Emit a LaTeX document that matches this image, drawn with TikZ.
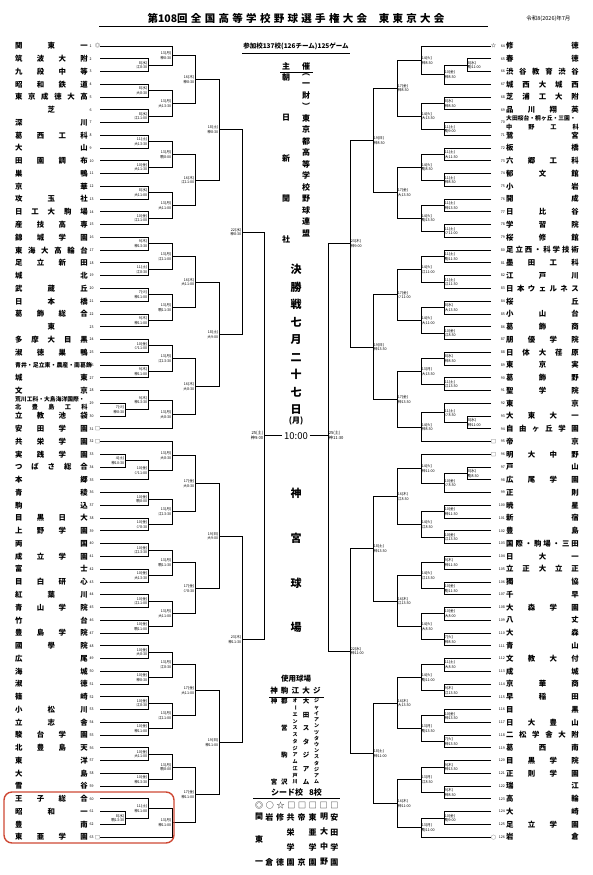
\documentclass[tikz,border=0pt]{standalone}
\usepackage{fontspec}
\usepackage{graphicx}
\setmainfont{Noto Sans CJK JP}
\usetikzlibrary{calc,positioning}
\definecolor{boxred}{RGB}{206,72,52}

% team rows: left 1--63, right 64--126
\newcommand\teamL[3]{%
  \node[nameL] (nm#1) at (15,{46+(#1-1)*12.76}) {\makebox[72.5pt][s]{#3}};
  \node[numL] (no#1) at (89.5,{46+(#1-1)*12.76}) {#1};
  \node[seedmark] (mk#1) at (97.5,{46+(#1-1)*12.76}) {#2};
  \coordinate (t#1) at (100,{46+(#1-1)*12.76});
}
\newcommand\teamR[3]{%
  \node[nameR] (nm#1) at (506,{46+(#1-64)*12.76}) {\makebox[72.5pt][s]{#3}};
  \node[numR] (no#1) at (505,{46+(#1-64)*12.76}) {#1};
  \node[seedmark] (mk#1) at (493.5,{46+(#1-64)*12.76}) {#2};
  \coordinate (t#1) at (491,{46+(#1-64)*12.76});
}
\newcommand\twoline[2]{\vbox{\hbox{\fontsize{5.8}{6}\selectfont #1}\kern0.8pt
  \hbox{\fontsize{6.2}{6.5}\selectfont\makebox[72.5pt][s]{#2}}}}
% one game: out, upper, lower, column, date
\newcommand\gameL[5]{%
  \draw[bline] (#2) -- (#2 -| #4) -- (#3 -| #4) -- (#3);
  \coordinate (#1) at ($(#2 -| #4)!0.5!(#3 -| #4)$);
  \node[dateL] (d#1) at (#1) {#5};
}
\newcommand\gameR[5]{%
  \draw[bline] (#2) -- (#2 -| #4) -- (#3 -| #4) -- (#3);
  \coordinate (#1) at ($(#2 -| #4)!0.5!(#3 -| #4)$);
  \node[dateR] (d#1) at (#1) {#5};
}

\begin{document}
\begin{tikzpicture}[x=1pt,y=-1pt]

    \tikzset{
      bline/.style={line width=0.85pt, line join=miter},
      nameL/.style={anchor=west, inner sep=0pt, font=\fontsize{7.4}{8}\selectfont\bfseries},
      nameR/.style={anchor=west, inner sep=0pt, font=\fontsize{7.4}{8}\selectfont\bfseries},
      numL/.style={anchor=west, inner sep=0pt, font=\fontsize{3.6}{4}\selectfont},
      numR/.style={anchor=east, inner sep=0pt, font=\fontsize{3.6}{4}\selectfont},
      seedmark/.style={inner sep=0pt, font=\fontsize{5}{5}\selectfont},
      dateL/.style={anchor=east, inner sep=0.6pt, align=right, font=\fontsize{3.7}{4.6}\selectfont},
      dateR/.style={anchor=west, inner sep=0.6pt, align=left, font=\fontsize{3.7}{4.6}\selectfont},
      vtext/.style={anchor=north, inner sep=0pt, align=center},
      uline/.style={line width=0.8pt},
      redbox/.style={draw=boxred, line width=1.4pt, rounded corners=8pt},
    }
    \useasboundingbox (0,0) rectangle (593,875);

    % heading
    \node[font=\fontsize{10.5}{12}\selectfont\bfseries] (ttl) at (296,18)
      {\makebox[297pt][s]{第108回 全 国 高 等 学 校 野 球 選 手 権 大 会 \hspace{5pt} 東 東 京 大 会}};
    \draw[uline] (99,26) -- (488,26);
    \node[anchor=east, font=\fontsize{5.5}{6}\selectfont] (issued) at (574,19) {令和8(2026)年7月};

    % bracket columns
    \coordinate (cL0) at (125,0); \coordinate (cL1) at (148,0); \coordinate (cL2) at (172,0);
    \coordinate (cL3) at (195,0); \coordinate (cL4) at (219,0); \coordinate (cL5) at (242,0);
    \coordinate (cL6) at (264,0);
    \coordinate (cR0) at (467,0); \coordinate (cR1) at (444,0); \coordinate (cR2) at (421,0);
    \coordinate (cR3) at (397,0); \coordinate (cR4) at (373,0); \coordinate (cR5) at (350,0);
    \coordinate (cR6) at (328,0);

    % left teams
    \teamL{1}{◎}{関 東 一}
    \teamL{2}{}{筑 波 大 附}
    \teamL{3}{}{九 段 中 等}
    \teamL{4}{}{昭 和 鉄 道}
    \teamL{5}{}{東 京 成 徳 大 高}
    \teamL{6}{}{\hfill 芝\hfill}
    \teamL{7}{}{深 川}
    \teamL{8}{}{葛 西 工 科}
    \teamL{9}{}{大 山}
    \teamL{10}{}{田 園 調 布}
    \teamL{11}{}{巣 鴨}
    \teamL{12}{}{京 華}
    \teamL{13}{}{攻 玉 社}
    \teamL{14}{}{日 工 大 駒 場}
    \teamL{15}{}{産 技 高 専}
    \teamL{16}{}{錦 城 学 園}
    \teamL{17}{}{東 海 大 高 輪 台}
    \teamL{18}{}{足 立 新 田}
    \teamL{19}{}{城 北}
    \teamL{20}{}{武 蔵 丘}
    \teamL{21}{}{日 本 橋}
    \teamL{22}{}{葛 飾 総 合}
    \teamL{23}{}{\hfill 東\hfill}
    \teamL{24}{}{多 摩 大 目 黒}
    \teamL{25}{}{淑 徳 巣 鴨}
    \teamL{26}{}{\fontsize{5.9}{6}\selectfont 青井・足立東・農産・南葛飾}
    \teamL{27}{}{城 東}
    \teamL{28}{}{文 京}
    \teamL{29}{}{\twoline{荒川工科・大島海洋国際・}{北 豊 島 工 科}}
    \teamL{30}{}{立 教 池 袋}
    \teamL{31}{□}{安 田 学 園}
    \teamL{32}{□}{共 栄 学 園}
    \teamL{33}{}{実 践 学 園}
    \teamL{34}{}{つ ば さ 総 合}
    \teamL{35}{}{本 郷}
    \teamL{36}{}{青 稜}
    \teamL{37}{}{駒 込}
    \teamL{38}{}{目 黒 日 大}
    \teamL{39}{}{上 野 学 園}
    \teamL{40}{}{両 国}
    \teamL{41}{}{成 立 学 園}
    \teamL{42}{}{富 士}
    \teamL{43}{}{目 白 研 心}
    \teamL{44}{}{紅 葉 川}
    \teamL{45}{}{青 山 学 院}
    \teamL{46}{}{竹 台}
    \teamL{47}{}{豊 島 学 院}
    \teamL{48}{}{國 學 院}
    \teamL{49}{}{広 尾}
    \teamL{50}{}{海 城}
    \teamL{51}{}{淑 徳}
    \teamL{52}{}{篠 崎}
    \teamL{53}{}{小 松 川}
    \teamL{54}{}{立 志 舎}
    \teamL{55}{}{駿 台 学 園}
    \teamL{56}{}{北 豊 島 天}
    \teamL{57}{}{東 洋}
    \teamL{58}{}{大 島}
    \teamL{59}{}{雪 谷}
    \teamL{60}{}{王 子 総 合}
    \teamL{61}{}{昭 和 一}
    \teamL{62}{}{豊 南}
    \teamL{63}{□}{東 亜 学 園}

    % right teams
    \teamR{64}{☆}{修 徳}
    \teamR{65}{}{春 徳}
    \teamR{66}{}{渋 谷 教 育 渋 谷}
    \teamR{67}{}{城 西 大 城 西}
    \teamR{68}{}{芝 浦 工 大 附}
    \teamR{69}{}{品 川 翔 英}
    \teamR{70}{}{\twoline{大田桜台・桐ヶ丘・三園・}{中 野 工 科}}
    \teamR{71}{}{鷺 宮}
    \teamR{72}{}{板 橋}
    \teamR{73}{}{六 郷 工 科}
    \teamR{74}{}{郁 文 館}
    \teamR{75}{}{小 岩}
    \teamR{76}{}{開 成}
    \teamR{77}{}{日 比 谷}
    \teamR{78}{}{学 習 院}
    \teamR{79}{}{桜 修 館}
    \teamR{80}{}{足 立 西 ・ 科 学 技 術}
    \teamR{81}{}{墨 田 工 科}
    \teamR{82}{}{江 戸 川}
    \teamR{83}{}{日 本 ウ ェ ル ネ ス}
    \teamR{84}{}{桜 丘}
    \teamR{85}{}{小 山 台}
    \teamR{86}{}{葛 飾 商}
    \teamR{87}{}{朋 優 学 院}
    \teamR{88}{}{日 体 大 荏 原}
    \teamR{89}{}{東 京 実}
    \teamR{90}{}{葛 飾 野}
    \teamR{91}{}{聖 学 院}
    \teamR{92}{}{東 京}
    \teamR{93}{}{大 東 大 一}
    \teamR{94}{}{自 由 ヶ 丘 学 園}
    \teamR{95}{□}{帝 京}
    \teamR{96}{□}{明 大 中 野}
    \teamR{97}{}{戸 山}
    \teamR{98}{}{広 尾 学 園}
    \teamR{99}{}{正 則}
    \teamR{100}{}{暁 星}
    \teamR{101}{}{新 宿}
    \teamR{102}{}{豊 島}
    \teamR{103}{}{国 際 ・ 駒 場 ・ 三 田}
    \teamR{104}{}{日 大 一}
    \teamR{105}{}{立 正 大 立 正}
    \teamR{106}{}{獨 協}
    \teamR{107}{}{千 早}
    \teamR{108}{}{大 森 学 園}
    \teamR{109}{}{八 丈}
    \teamR{110}{}{大 森}
    \teamR{111}{}{青 山}
    \teamR{112}{}{文 教 大 付}
    \teamR{113}{}{成 城}
    \teamR{114}{}{京 華 商}
    \teamR{115}{}{早 稲 田}
    \teamR{116}{}{目 黒}
    \teamR{117}{}{日 大 豊 山}
    \teamR{118}{}{二 松 学 舎 大 附}
    \teamR{119}{}{葛 西 南}
    \teamR{120}{}{目 黒 学 院}
    \teamR{121}{}{正 則 学 園}
    \teamR{122}{}{瑞 江}
    \teamR{123}{}{高 輪}
    \teamR{124}{}{大 崎}
    \teamR{125}{}{足 立 学 園}
    \teamR{126}{○}{岩 倉}

    % left bracket, block 1--15
    \gameL{gA1}{t2}{t3}{cL1}{8(水)\\江8:30}
    \gameL{gA2}{t1}{gA1}{cL2}{13(月)\\神8:30}
    \gameL{gA3}{t4}{t5}{cL1}{8(水)\\大8:30}
    \gameL{gA4}{t6}{t7}{cL1}{8(水)\\江11:00}
    \gameL{gA5}{gA3}{gA4}{cL2}{13(月)\\大13:30}
    \gameL{gA6}{gA2}{gA5}{cL3}{16(木)\\神8:30}
    \gameL{gA7}{t8}{t9}{cL1}{11(土)\\大13:30}
    \gameL{gA8}{t10}{t11}{cL1}{10(金)\\大11:30}
    \gameL{gA9}{gA7}{gA8}{cL2}{13(月)\\駒8:00}
    \gameL{gA10}{t12}{t13}{cL1}{8(水)\\大11:00}
    \gameL{gA11}{t14}{t15}{cL1}{10(金)\\江11:00}
    \gameL{gA12}{gA10}{gA11}{cL2}{13(月)\\大11:00}
    \gameL{gA13}{gA9}{gA12}{cL3}{16(木)\\江11:00}
    \gameL{gA14}{gA6}{gA13}{cL4}{18(土)\\神8:30}
    % block 16--31
    \gameL{gB1}{t16}{t17}{cL1}{9(木)\\神13:30}
    \gameL{gB2}{t18}{t19}{cL1}{11(土)\\江8:30}
    \gameL{gB3}{gB1}{gB2}{cL2}{13(月)\\江11:00}
    \gameL{gB4}{t20}{t21}{cL1}{7(火)\\神11:00}
    \gameL{gB5}{t22}{t23}{cL1}{9(木)\\神11:00}
    \gameL{gB6}{gB4}{gB5}{cL2}{13(月)\\駒11:30}
    \gameL{gB7}{gB3}{gB6}{cL3}{16(木)\\大11:00}
    \gameL{gB8}{t24}{t25}{cL1}{10(金)\\ジ11:00}
    \gameL{gB9}{t26}{t27}{cL1}{9(木)\\神11:00}
    \gameL{gB10}{gB8}{gB9}{cL2}{13(月)\\江13:30}
    \gameL{gB11}{t29}{t30}{cL0}{7(火)\\神8:30}
    \gameL{gB12}{t28}{gB11}{cL1}{9(木)\\神13:30}
    \gameL{gB13}{gB12}{t31}{cL2}{13(月)\\大8:30}
    \gameL{gB14}{gB10}{gB13}{cL3}{16(木)\\大8:30}
    \gameL{gB15}{gB7}{gB14}{cL4}{18(土)\\大9:00}
    \gameL{gR5a}{gA14}{gB15}{cL5}{22(水)\\神8:30}
    % block 32--47
    \gameL{gC1}{t33}{t34}{cL0}{4(土)\\神10:30}
    \gameL{gC2}{gC1}{t35}{cL1}{10(金)\\ジ11:00}
    \gameL{gC3}{t32}{gC2}{cL2}{13(月)\\大8:30}
    \gameL{gC4}{t36}{t37}{cL1}{10(金)\\駒8:00}
    \gameL{gC5}{t38}{t39}{cL1}{10(金)\\ジ8:30}
    \gameL{gC6}{gC4}{gC5}{cL2}{13(月)\\江13:30}
    \gameL{gC7}{gC3}{gC6}{cL3}{17(金)\\大8:30}
    \gameL{gC8}{t40}{t41}{cL1}{10(金)\\江13:30}
    \gameL{gC9}{t42}{t43}{cL1}{10(金)\\大13:30}
    \gameL{gC10}{gC8}{gC9}{cL2}{13(月)\\駒11:30}
    \gameL{gC11}{t44}{t45}{cL1}{10(金)\\江11:00}
    \gameL{gC12}{t46}{t47}{cL1}{10(金)\\駒11:00}
    \gameL{gC13}{gC11}{gC12}{cL2}{13(月)\\大11:00}
    \gameL{gC14}{gC10}{gC13}{cL3}{17(金)\\ジ8:30}
    \gameL{gC15}{gC7}{gC14}{cL4}{19(日)\\大9:00}
    % block 48--63
    \gameL{gD1}{t48}{t49}{cL1}{10(金)\\大8:30}
    \gameL{gD2}{t50}{t51}{cL1}{10(金)\\神8:30}
    \gameL{gD3}{gD1}{gD2}{cL2}{13(月)\\江8:30}
    \gameL{gD4}{t52}{t53}{cL1}{10(金)\\江8:30}
    \gameL{gD5}{t54}{t55}{cL1}{10(金)\\神11:00}
    \gameL{gD6}{gD4}{gD5}{cL2}{13(月)\\江11:00}
    \gameL{gD7}{gD3}{gD6}{cL3}{17(金)\\大11:00}
    \gameL{gD8}{t56}{t57}{cL1}{10(金)\\大11:00}
    \gameL{gD9}{t58}{t59}{cL1}{10(金)\\神13:30}
    \gameL{gD10}{gD8}{gD9}{cL2}{13(月)\\駒8:00}
    \gameL{gD11}{t61}{t62}{cL0}{8(水)\\駒13:30}
    \gameL{gD12}{t60}{gD11}{cL1}{11(土)\\神11:00}
    \gameL{gD13}{gD12}{t63}{cL2}{13(月)\\神11:00}
    \gameL{gD14}{gD10}{gD13}{cL3}{17(金)\\神11:00}
    \gameL{gD15}{gD7}{gD14}{cL4}{19(日)\\神11:00}
    \gameL{gR5b}{gC15}{gD15}{cL5}{23(木)\\神11:30}

    % right bracket, block 64--79
    \gameR{hE1}{t65}{t66}{cR0}{8(水)\\駒11:00}
    \gameR{hE2}{hE1}{t67}{cR1}{10(金)\\神8:30}
    \gameR{hE3}{t64}{hE2}{cR2}{14(火)\\神8:30}
    \gameR{hE4}{t68}{t69}{cR1}{8(水)\\神8:30}
    \gameR{hE5}{t70}{t71}{cR1}{11(土)\\駒9:00}
    \gameR{hE6}{hE4}{hE5}{cR2}{14(火)\\大13:30}
    \gameR{hE7}{hE3}{hE6}{cR3}{17(金)\\神8:30}
    \gameR{hE8}{t72}{t73}{cR1}{11(土)\\大11:30}
    \gameR{hE9}{t74}{t75}{cR1}{11(土)\\神8:30}
    \gameR{hE10}{hE8}{hE9}{cR2}{14(火)\\駒8:30}
    \gameR{hE11}{t76}{t77}{cR1}{11(土)\\神13:30}
    \gameR{hE12}{t78}{t79}{cR1}{11(土)\\ジ11:00}
    \gameR{hE13}{hE11}{hE12}{cR2}{14(火)\\駒13:30}
    \gameR{hE14}{hE10}{hE13}{cR3}{17(金)\\大13:30}
    \gameR{hE15}{hE7}{hE14}{cR4}{19(日)\\神8:30}
    % block 80--95
    \gameR{hF1}{t80}{t81}{cR1}{11(土)\\駒11:30}
    \gameR{hF2}{t82}{t83}{cR1}{11(土)\\江11:30}
    \gameR{hF3}{hF1}{hF2}{cR2}{14(火)\\江11:00}
    \gameR{hF4}{t84}{t85}{cR1}{8(水)\\大13:30}
    \gameR{hF5}{t86}{t87}{cR1}{10(金)\\江8:30}
    \gameR{hF6}{hF4}{hF5}{cR2}{14(火)\\大11:00}
    \gameR{hF7}{hF3}{hF6}{cR3}{17(金)\\ジ11:00}
    \gameR{hF8}{t88}{t89}{cR1}{8(水)\\神8:30}
    \gameR{hF9}{t90}{t91}{cR1}{11(土)\\江13:30}
    \gameR{hF10}{hF8}{hF9}{cR2}{13(月)\\大13:30}
    \gameR{hF11}{t93}{t94}{cR0}{8(水)\\神11:00}
    \gameR{hF12}{t92}{hF11}{cR1}{11(土)\\ジ8:30}
    \gameR{hF13}{hF12}{t95}{cR2}{14(火)\\神8:30}
    \gameR{hF14}{hF10}{hF13}{cR3}{17(金)\\神13:30}
    \gameR{hF15}{hF7}{hF14}{cR4}{19(日)\\神13:30}
    \gameR{hR5a}{hE15}{hF15}{cR5}{23(木)\\神9:00}
    % block 96--111
    \gameR{hG1}{t97}{t98}{cR0}{8(水)\\駒8:30}
    \gameR{hG2}{hG1}{t99}{cR1}{10(金)\\ジ8:30}
    \gameR{hG3}{t96}{hG2}{cR2}{14(火)\\神11:00}
    \gameR{hG4}{t100}{t101}{cR1}{10(金)\\神11:30}
    \gameR{hG5}{t102}{t103}{cR1}{10(金)\\江13:30}
    \gameR{hG6}{hG4}{hG5}{cR2}{14(火)\\江8:30}
    \gameR{hG7}{hG3}{hG6}{cR3}{16(木)\\江8:30}
    \gameR{hG8}{t104}{t105}{cR1}{9(木)\\神11:30}
    \gameR{hG9}{t106}{t107}{cR1}{10(金)\\駒11:30}
    \gameR{hG10}{hG8}{hG9}{cR2}{14(火)\\江13:30}
    \gameR{hG11}{t108}{t109}{cR1}{10(金)\\大8:00}
    \gameR{hG12}{t110}{t111}{cR1}{7(火)\\神8:30}
    \gameR{hG13}{hG11}{hG12}{cR2}{14(火)\\大8:30}
    \gameR{hG14}{hG10}{hG13}{cR3}{16(木)\\江13:30}
    \gameR{hG15}{hG7}{hG14}{cR4}{18(土)\\神13:30}
    % block 112--126
    \gameR{hH1}{t112}{t113}{cR1}{11(土)\\大8:30}
    \gameR{hH2}{t114}{t115}{cR1}{9(木)\\江13:30}
    \gameR{hH3}{hH1}{hH2}{cR2}{14(火)\\駒11:00}
    \gameR{hH4}{t116}{t117}{cR1}{10(金)\\神13:30}
    \gameR{hH5}{t118}{t119}{cR1}{7(火)\\神13:30}
    \gameR{hH6}{hH4}{hH5}{cR2}{13(月)\\駒13:30}
    \gameR{hH7}{hH3}{hH6}{cR3}{16(木)\\大13:30}
    \gameR{hH8}{t120}{t121}{cR1}{9(木)\\神13:30}
    \gameR{hH9}{t122}{t123}{cR1}{9(木)\\神8:30}
    \gameR{hH10}{hH8}{hH9}{cR2}{13(月)\\江8:30}
    \gameR{hH11}{t124}{t125}{cR1}{10(金)\\駒9:00}
    \gameR{hH12}{hH11}{t126}{cR2}{13(月)\\駒11:00}
    \gameR{hH13}{hH10}{hH12}{cR3}{16(木)\\神11:00}
    \gameR{hH14}{hH7}{hH13}{cR4}{18(土)\\神11:00}
    \gameR{hR5b}{hG15}{hH14}{cR5}{22(水)\\神11:00}

    % semi-finals and final
    \draw[bline] (gR5a) -- (gR5a -| cL6) -- (gR5b -| cL6) -- (gR5b);
    \coordinate (semiL) at ($(gR5a -| cL6)!0.5!(gR5b -| cL6)$);
    \draw[bline] (hR5a) -- (hR5a -| cR6) -- (hR5b -| cR6) -- (hR5b);
    \node[font=\fontsize{9.5}{10}\selectfont, inner sep=1.5pt] (fin) at ($(semiL)!0.5!(semiL -| cR6)$) {10:00};
    \draw[bline] (semiL) -- (fin.west);
    \draw[bline] (fin.east) -- (fin.east -| cR6);
    \node[dateL, font=\fontsize{4.2}{5}\selectfont] (dsemiL) at (semiL) {25(土)\\神9:00};
    \node[dateR, font=\fontsize{4.2}{5}\selectfont] (dsemiR) at (fin.east -| cR6) {25(土)\\神11:30};

    % centre column
    \node[font=\fontsize{6.5}{7}\selectfont\bfseries] (entry) at (296,46) {参加校137校(126チーム)125ゲーム};
    \draw[uline] (242,53) -- (350,53);
    \node[font=\fontsize{8}{8}\selectfont\bfseries] (host) at (296,66) {\makebox[28pt][s]{主 催}};
    \draw[uline] (280,72) -- (313,72);
    \node[vtext, font=\fontsize{8}{40.5}\selectfont\bfseries] (host1) at (286,73) {朝\\日\\新\\聞\\社};
    \node[vtext, font=\fontsize{8}{11.5}\selectfont\bfseries] (host2) at (306,73)
      {︵\\一\\財\\︶\\東\\京\\都\\高\\等\\学\\校\\野\\球\\連\\盟};
    \node[vtext, font=\fontsize{11}{17.5}\selectfont\bfseries] (finday) at (296,264)
      {決\\勝\\戦\\七\\月\\二\\十\\七\\日};
    \node[font=\fontsize{8}{8}\selectfont\bfseries] (finwd) at (296,421) {(月)};
    \node[vtext, font=\fontsize{11}{44.7}\selectfont\bfseries] (finvenue) at (296,488) {神\\宮\\球\\場};

    % grounds
    \node[font=\fontsize{7.5}{8}\selectfont\bfseries] (grounds) at (296,679) {使用球場};
    \node[font=\fontsize{7.5}{8}\selectfont\bfseries] (gkeys) at (295.4,691) {\makebox[50.2pt][s]{神 駒 江 大 ジ}};
    \draw[uline] (269,697) -- (324,697);
    \node[vtext, font=\fontsize{6.5}{81}\selectfont\bfseries] (gJ) at (274,697.8) {神\\宮};
    \node[vtext, font=\fontsize{6.5}{27}\selectfont\bfseries] (gK) at (284.3,697.8) {都\\営\\駒\\沢};
    \node[vtext, font=\fontsize{5}{6.75}\selectfont\bfseries] (gE) at (295,698.5)
      {オ\\\rotatebox[origin=c]{-90}{ー}\\エ\\ン\\ス\\ス\\タ\\ジ\\ア\\ム\\江\\戸\\川};
    \node[vtext, font=\fontsize{6.5}{13.5}\selectfont\bfseries] (gO) at (306,697.8) {大\\田\\ス\\タ\\ジ\\ア\\ム};
    \node[vtext, font=\fontsize{5}{6.23}\selectfont\bfseries] (gG) at (316.7,698.5)
      {ジ\\ャ\\イ\\ア\\ン\\ツ\\タ\\ウ\\ン\\ス\\タ\\ジ\\ア\\ム};

    % seeds
    \node[font=\fontsize{8}{8}\selectfont\bfseries] (seedttl) at (296.5,792) {シード校\hspace{6pt}8校};
    \draw[uline] (253,798) -- (340,798);
    \node[font=\fontsize{8}{8}\selectfont] (seedsym) at (296.7,805) {\makebox[83.3pt][s]{◎ ○ ☆ □ □ □ □ □}};
    \node[vtext, font=\fontsize{8}{22.5}\selectfont\bfseries] (s1) at (259,813) {関\\東\\一};
    \node[vtext, font=\fontsize{8}{45}\selectfont\bfseries] (s2) at (269.3,813) {岩\\倉};
    \node[vtext, font=\fontsize{8}{45}\selectfont\bfseries] (s3) at (280,813) {修\\徳};
    \node[vtext, font=\fontsize{8}{15}\selectfont\bfseries] (s4) at (290.7,813) {共\\栄\\学\\園};
    \node[vtext, font=\fontsize{8}{45}\selectfont\bfseries] (s5) at (301.7,813) {帝\\京};
    \node[vtext, font=\fontsize{8}{15}\selectfont\bfseries] (s6) at (312.7,813) {東\\亜\\学\\園};
    \node[vtext, font=\fontsize{8}{15}\selectfont\bfseries] (s7) at (324,813) {明\\大\\中\\野};
    \node[vtext, font=\fontsize{8}{15}\selectfont\bfseries] (s8) at (334.3,813) {安\\田\\学\\園};

    % marked block
    \draw[redbox] (4,792) rectangle (174,843);

\end{tikzpicture}
\end{document}
